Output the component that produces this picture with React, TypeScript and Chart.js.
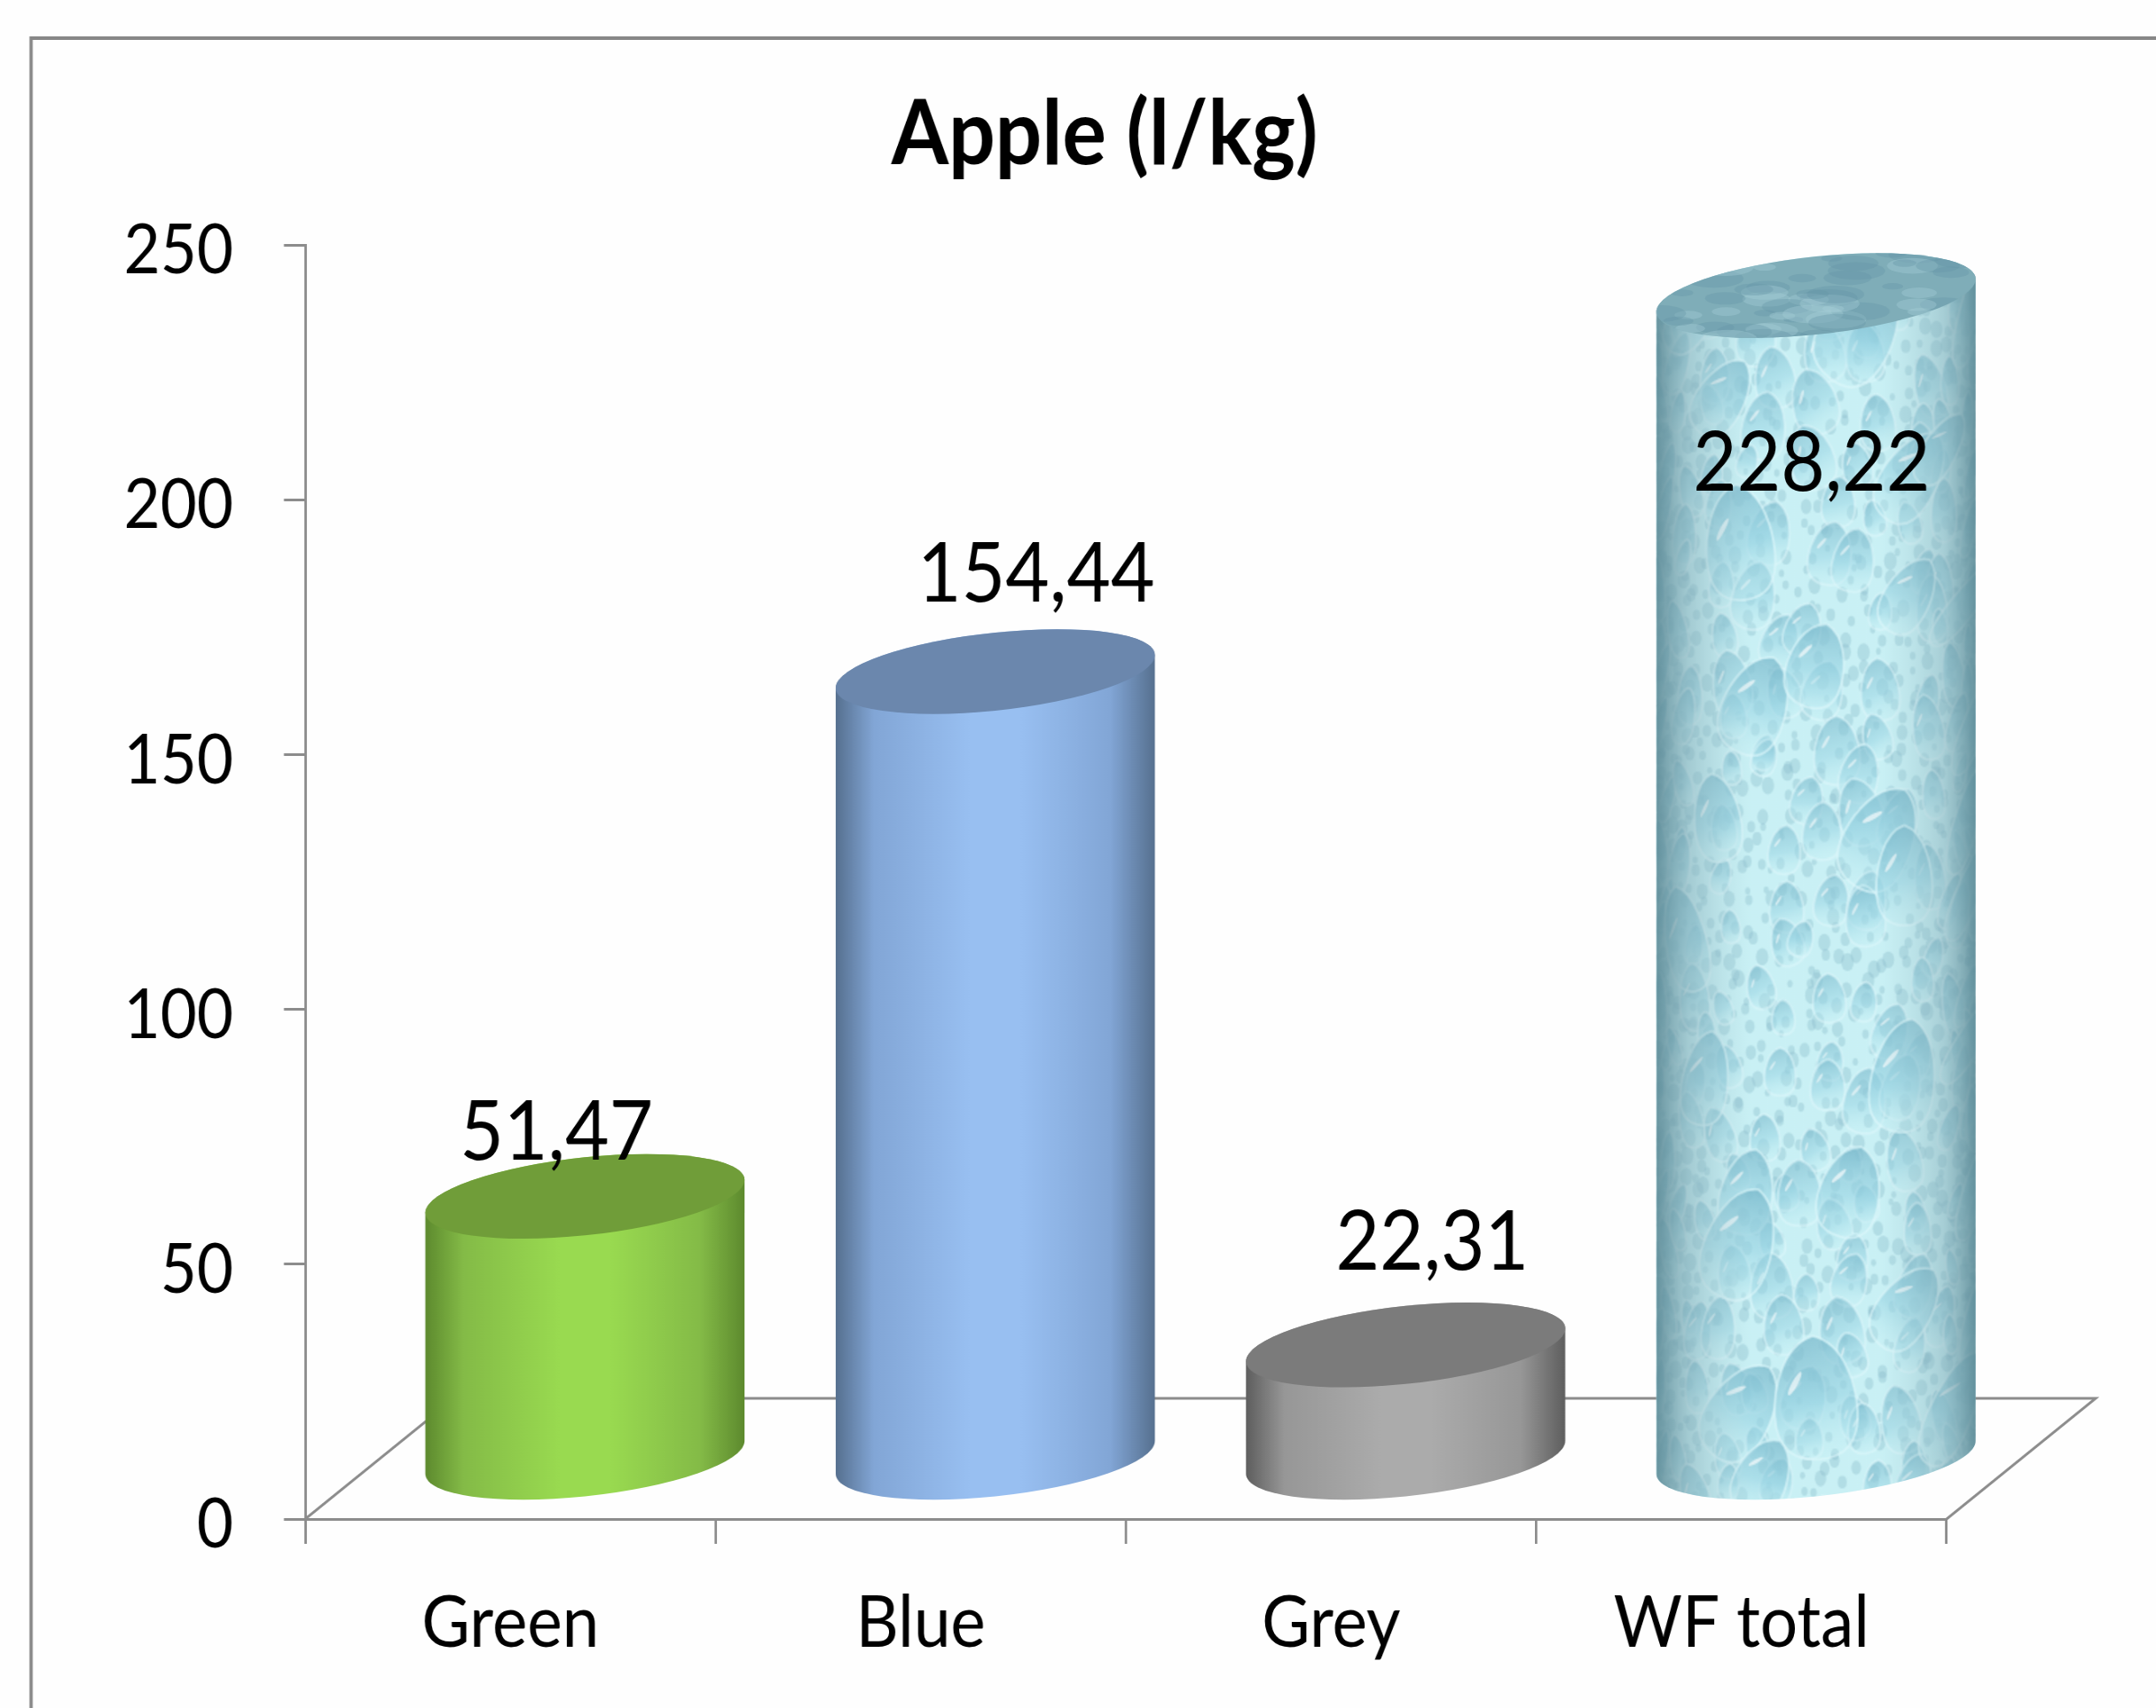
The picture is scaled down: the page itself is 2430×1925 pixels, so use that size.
import React, { useEffect, useRef } from "react";
import { Chart, registerables } from "chart.js";

Chart.register(...registerables);

const categories = ["Green", "Blue", "Grey", "WF total"];
const waterFootprint = [51.47, 154.44, 22.31, 228.22];
const chartTitle = "Apple (l/kg)";
const yTickStep = 50;
const yMax = 250;
// nudges of each value label relative to the top of its cylinder (page px)
const labelNudgeX = [-32, 46, 30, -5];
const labelNudgeY = [-41, -79, -85, 220];

const PAGE_W = 2430;
const PAGE_H = 1925;
const SQUEEZE = 0.91; // the source has horizontally narrow text
const W = Math.round(PAGE_W / SQUEEZE);
const px = (v: number) => v / SQUEEZE;

const AXIS_LEFT = px(344);
const AXIS_RIGHT = px(2194);
const AXIS_BOTTOM = 1712;
const DEPTH_X = px(168);
const DEPTH_Y = 136;
const TITLE_SHIFT = px(-24);
const Y_LABEL_DROP = 7;
const FONT = "Lato, Carlito, sans-serif";
const LINE = "#8c8c8c";

type Shade = { edge: string; mid: string; light: string; cap: string };
const shades: (Shade | null)[] = [
  { edge: "#5d8a2e", mid: "#84bb47", light: "#99da50", cap: "#709d39" },
  { edge: "#56708f", mid: "#82a6d6", light: "#98bff1", cap: "#6b87ad" },
  { edge: "#5e5e5e", mid: "#979797", light: "#ababab", cap: "#7b7b7b" },
  null,
];

const h = (i: number) => {
  const v = Math.sin(i * 12.9898 + 4.1) * 43758.5453;
  return v - Math.floor(v);
};

function cylPath(ctx: CanvasRenderingContext2D, cx: number, a: number, top: number, bot: number, s: number, b: number) {
  ctx.beginPath();
  ctx.moveTo(cx - a, top + s);
  ctx.lineTo(cx - a, bot + s);
  ctx.save();
  ctx.transform(1, -s / a, 0, 1, cx, bot);
  ctx.ellipse(0, 0, a, b, 0, Math.PI, 0, true);
  ctx.restore();
  ctx.lineTo(cx + a, top - s);
  ctx.save();
  ctx.transform(1, -s / a, 0, 1, cx, top);
  ctx.ellipse(0, 0, a, b, 0, 0, Math.PI, true);
  ctx.restore();
  ctx.closePath();
}

function capPath(ctx: CanvasRenderingContext2D, cx: number, a: number, top: number, s: number, b: number) {
  ctx.beginPath();
  ctx.save();
  ctx.transform(1, -s / a, 0, 1, cx, top);
  ctx.ellipse(0, 0, a, b, 0, 0, Math.PI * 2);
  ctx.restore();
  ctx.closePath();
}

function drop(ctx: CanvasRenderingContext2D, x: number, y: number, rx: number, ry: number, tilt: number, strength: number) {
  ctx.save();
  ctx.translate(x, y);
  ctx.rotate(tilt);
  const g = ctx.createLinearGradient(-rx * 0.4, -ry, rx * 0.3, ry);
  g.addColorStop(0, `rgba(115,180,200,${0.8 * strength})`);
  g.addColorStop(0.55, `rgba(150,212,228,${0.65 * strength})`);
  g.addColorStop(1, `rgba(205,246,250,${0.2 * strength})`);
  ctx.beginPath();
  ctx.moveTo(0, -ry);
  ctx.bezierCurveTo(rx * 0.8, -ry * 0.85, rx, -ry * 0.1, rx, ry * 0.25);
  ctx.bezierCurveTo(rx, ry * 0.85, rx * 0.5, ry, 0, ry);
  ctx.bezierCurveTo(-rx * 0.5, ry, -rx, ry * 0.85, -rx, ry * 0.25);
  ctx.bezierCurveTo(-rx, -ry * 0.1, -rx * 0.8, -ry * 0.85, 0, -ry);
  ctx.fillStyle = g;
  ctx.fill();
  ctx.strokeStyle = `rgba(228,252,255,${0.65 * strength})`;
  ctx.lineWidth = 3;
  ctx.stroke();
  if (rx > 16) {
    ctx.beginPath();
    ctx.ellipse(-rx * 0.48, -ry * 0.25, rx * 0.07, ry * 0.22, 0.6, 0, Math.PI * 2);
    ctx.fillStyle = `rgba(255,255,255,${0.75 * strength})`;
    ctx.fill();
  }
  ctx.restore();
}

function buildWater(a: number, height: number) {
  const res = 0.6;
  const off = document.createElement("canvas");
  off.width = Math.ceil(2 * a * res);
  off.height = Math.ceil(height * res);
  const ctx = off.getContext("2d") as CanvasRenderingContext2D;
  ctx.scale(res, res);
  ctx.fillStyle = "#cdf4f8";
  ctx.fillRect(0, 0, 2 * a, height);
  const place = (u: number, y: number, rx: number, ry: number, tilt: number, st: number) => {
    const ang = u * 1.45;
    const k = Math.max(0.3, Math.cos(ang));
    drop(ctx, a + a * Math.sin(ang), y, rx * k, ry, tilt, st);
  };
  let n = 1000;
  for (let y = 0; y < height; y += 18) {
    for (let u = -1; u < 1; u += 0.09) {
      n++;
      const r = 3 + h(n + 900) * 5;
      ctx.beginPath();
      ctx.ellipse(a + a * Math.sin((u + h(n) * 0.09) * 1.45), y + h(n + 500) * 18, r, r * 1.3, 0, 0, Math.PI * 2);
      ctx.fillStyle = "rgba(130,180,198,0.35)";
      ctx.fill();
    }
  }
  for (let y = 0; y < height; y += 58) {
    for (let u = -1; u < 1; u += 0.23) {
      n++;
      const r = 14 + h(n + 77) * 15;
      place(u + h(n + 11) * 0.2, y + h(n + 23) * 54, r, r * 1.35, (h(n + 41) - 0.5) * 0.7, 0.8);
    }
  }
  for (let y = 30; y < height; y += 135) {
    for (let u = -0.7; u < 0.8; u += 0.66) {
      n++;
      const r = 34 + h(n + 177) * 18;
      place(u + h(n + 111) * 0.5, y + h(n + 123) * 110, r, r * 1.35, 0.25 + (h(n + 141) - 0.5) * 1, 0.95);
    }
  }
  return off;
}

const scenePlugin = {
  id: "scene",
  afterLayout(chart: any) {
    const t = chart.titleBlock;
    if (t) {
      t.left += TITLE_SHIFT;
      t.right += TITLE_SHIFT;
    }
  },
  beforeDraw(chart: any) {
    const { ctx } = chart;
    ctx.save();
    ctx.fillStyle = "#fefefe";
    ctx.fillRect(0, 0, W, PAGE_H);
    ctx.strokeStyle = "#878787";
    ctx.lineWidth = 4;
    ctx.beginPath();
    ctx.moveTo(px(35), PAGE_H + 5);
    ctx.lineTo(px(35), 43);
    ctx.lineTo(W + 5, 43);
    ctx.stroke();
    ctx.restore();
  },
  beforeDatasetsDraw(chart: any) {
    const { ctx, chartArea } = chart;
    const { left, right, bottom } = chartArea;
    ctx.save();
    ctx.strokeStyle = LINE;
    ctx.lineWidth = 3;
    ctx.beginPath();
    ctx.moveTo(left, bottom);
    ctx.lineTo(left + DEPTH_X, bottom - DEPTH_Y);
    ctx.lineTo(right + DEPTH_X, bottom - DEPTH_Y);
    ctx.lineTo(right, bottom);
    ctx.stroke();

    const meta = chart.getDatasetMeta(0);
    meta.data.forEach((bar: any, i: number) => {
      const a = bar.width / 2;
      const cx = bar.x + DEPTH_X / 2;
      const top = bar.y - DEPTH_Y / 2;
      const bot = bar.base - DEPTH_Y / 2;
      const s = 18.5;
      const b = 44;
      const shade = shades[i];
      if (shade) {
        const g = ctx.createLinearGradient(cx - a, 0, cx + a, 0);
        g.addColorStop(0, shade.edge);
        g.addColorStop(0.12, shade.mid);
        g.addColorStop(0.42, shade.light);
        g.addColorStop(0.58, shade.light);
        g.addColorStop(0.86, shade.mid);
        g.addColorStop(1, shade.edge);
        cylPath(ctx, cx, a, top, bot, s, b);
        ctx.fillStyle = g;
        ctx.fill();
        capPath(ctx, cx, a, top, s, b);
        ctx.fillStyle = shade.cap;
        ctx.fill();
      } else {
        ctx.save();
        cylPath(ctx, cx, a, top, bot, s, b);
        ctx.clip();
        const y0 = top - 60;
        const tall = bot - top + 130;
        ctx.imageSmoothingQuality = "high";
        ctx.drawImage(buildWater(a, tall), cx - a, y0, 2 * a, tall);
        const g = ctx.createLinearGradient(cx - a, 0, cx + a, 0);
        g.addColorStop(0, "rgba(95,140,152,0.92)");
        g.addColorStop(0.1, "rgba(135,175,185,0.6)");
        g.addColorStop(0.3, "rgba(175,215,222,0.12)");
        g.addColorStop(0.7, "rgba(175,215,222,0.12)");
        g.addColorStop(0.9, "rgba(135,175,185,0.55)");
        g.addColorStop(1, "rgba(95,140,152,0.92)");
        ctx.fillStyle = g;
        ctx.fillRect(cx - a, y0, 2 * a, tall);
        ctx.restore();
        ctx.save();
        capPath(ctx, cx, a, top, s, b);
        ctx.clip();
        ctx.fillStyle = "#7fadb8";
        ctx.fillRect(cx - a, top - 70, 2 * a, 140);
        for (let j = 0; j < 70; j++) {
          const rx = 12 + h(j + 3000) * 26;
          ctx.beginPath();
          ctx.ellipse(cx - a + h(j + 3100) * 2 * a, top - 55 + h(j + 3200) * 110, rx, rx * 0.28, 0, 0, Math.PI * 2);
          ctx.fillStyle = j % 3 === 0 ? "rgba(170,210,218,0.35)" : "rgba(100,150,165,0.35)";
          ctx.fill();
        }
        ctx.restore();
      }
    });
    ctx.restore();
  },
  beforeDatasetDraw() {
    return false;
  },
  afterDatasetsDraw(chart: any) {
    const { ctx } = chart;
    const meta = chart.getDatasetMeta(0);
    ctx.save();
    ctx.fillStyle = "#000";
    ctx.font = `94px ${FONT}`;
    ctx.textAlign = "center";
    ctx.textBaseline = "alphabetic";
    meta.data.forEach((bar: any, i: number) => {
      const text = waterFootprint[i].toFixed(2).replace(".", ",");
      ctx.fillText(text, bar.x + DEPTH_X / 2 + px(labelNudgeX[i]), bar.y - DEPTH_Y / 2 + labelNudgeY[i]);
    });
    ctx.restore();
  },
};

export default function App() {
  const ref = useRef<HTMLCanvasElement | null>(null);
  useEffect(() => {
    document.body.style.margin = "0";
    document.body.style.background = "#fefefe";
    const chart = new Chart(ref.current as HTMLCanvasElement, {
      type: "bar",
      data: {
        labels: categories,
        datasets: [
          {
            label: "Water footprint",
            data: waterFootprint,
            backgroundColor: ["#98d850", "#98bef0", "#ababab", "#a8e0ec"],
            barPercentage: 0.778,
            categoryPercentage: 1,
          },
        ],
      },
      options: {
        animation: false,
        responsive: false,
        devicePixelRatio: 1,
        layout: {
          padding: { left: 0, right: W - AXIS_RIGHT, top: 0, bottom: 0 },
        },
        plugins: {
          legend: { display: false },
          tooltip: { enabled: false },
          title: {
            display: true,
            text: chartTitle,
            fullSize: false,
            color: "#000",
            font: { family: FONT, size: 102, weight: "bold", lineHeight: 1 },
            padding: { top: 101, bottom: 73 },
          },
        },
        scales: {
          x: {
            afterFit: (s: any) => {
              s.height = PAGE_H - AXIS_BOTTOM;
            },
            border: { color: LINE, width: 3 },
            grid: { drawOnChartArea: false, drawTicks: true, tickLength: 28, color: LINE, lineWidth: 3 },
            ticks: { color: "#000", font: { family: FONT, size: 82 }, padding: 40, maxRotation: 0, autoSkip: false },
          },
          y: {
            min: 0,
            max: yMax,
            afterFit: (s: any) => {
              s.width = AXIS_LEFT;
              if (!s.__labelDrop) {
                const original = s._computeLabelItems.bind(s);
                s._computeLabelItems = (area: any) => {
                  const items = original(area);
                  items.forEach((it: any) => {
                    it.textOffset = (it.textOffset || 0) + Y_LABEL_DROP;
                  });
                  return items;
                };
                s.__labelDrop = true;
              }
            },
            border: { color: LINE, width: 3 },
            grid: { drawOnChartArea: false, drawTicks: true, tickLength: px(24), color: LINE, lineWidth: 3 },
            ticks: { color: "#000", stepSize: yTickStep, font: { family: FONT, size: 78 }, padding: px(57) },
          },
        },
      },
      plugins: [scenePlugin],
    } as any);
    return () => chart.destroy();
  }, []);

  return (
    <div style={{ width: PAGE_W, height: PAGE_H, overflow: "hidden", background: "#fefefe" }}>
      <div style={{ width: W, height: PAGE_H, transform: `scaleX(${SQUEEZE})`, transformOrigin: "0 0" }}>
        <canvas ref={ref} width={W} height={PAGE_H} style={{ display: "block" }} />
      </div>
    </div>
  );
}
